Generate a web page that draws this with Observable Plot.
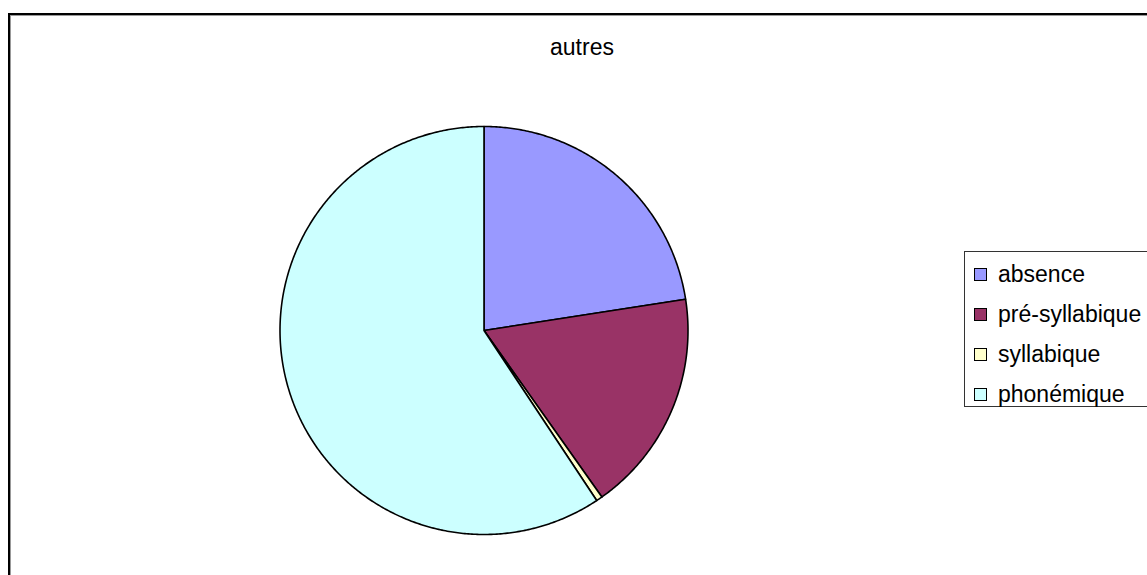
<!DOCTYPE html>
<html>
<head>
<meta charset="utf-8">
<script src="https://cdn.jsdelivr.net/npm/d3@7"></script>
<script src="https://cdn.jsdelivr.net/npm/@observablehq/plot@0.6"></script>
<style>
  html, body { margin: 0; padding: 0; background: #fff; }
  body { width: 1147px; height: 575px; position: relative; overflow: hidden; font-family: "Liberation Sans", Arial, sans-serif; }
  #frame { position: absolute; left: 8px; top: 13px; width: 1200px; height: 700px; border-left: 2px solid #000; border-top: 2px solid #000; box-shadow: inset 1px 1px 0 #999; }
  #chart { position: absolute; left: 0; top: 0; }
  #title { position: absolute; left: 482px; width: 200px; top: 34px; text-align: center; font-size: 23px; color: #000; }
  #legend { position: absolute; left: 964px; top: 251px; width: 300px; height: 156px; border: 1px solid #333; box-sizing: border-box; }
  .row { position: absolute; left: 0; height: 40px; display: flex; align-items: center; font-size: 23px; }
  .sw { width: 11px; height: 11px; border: 1px solid #000; margin-left: 9px; margin-right: 11px; }
</style>
</head>
<body>
<div id="frame"></div>
<div id="chart"></div>
<div id="title"></div>
<div id="legend"></div>
<script>
const title = "autres";
const categories = ["absence", "pré-syllabique", "syllabique", "phonémique"];
const values = [46, 36, 1, 121];
const colors = ["#9999FF", "#993366", "#FFFFCC", "#CCFFFF"];

const pie = d3.pie().sort(null).startAngle(0).endAngle(2 * Math.PI)(values);
const features = pie.map((p, i) => {
  const ring = [[0, 0]];
  const steps = Math.max(2, Math.ceil((p.endAngle - p.startAngle) / (Math.PI / 360)));
  for (let k = 0; k <= steps; k++) {
    const a = p.startAngle + (p.endAngle - p.startAngle) * k / steps;
    ring.push([Math.sin(a), Math.cos(a)]);
  }
  ring.push([0, 0]);
  return { type: "Feature", properties: { name: categories[i] }, geometry: { type: "Polygon", coordinates: [ring] } };
});

const W = 1147, H = 575;
const cx = 483.5, cy = 330, r = 204;
const chart = Plot.plot({
  width: W,
  height: H,
  marginLeft: cx - r,
  marginRight: W - (cx + r),
  marginTop: cy - r,
  marginBottom: H - (cy + r),
  projection: {
    type: "reflect-y",
    domain: { type: "Polygon", coordinates: [[[-1, -1], [1, -1], [1, 1], [-1, 1], [-1, -1]]] },
    inset: 0
  },
  color: { domain: categories, range: colors },
  style: { background: "transparent" },
  marks: [
    Plot.geo(features, { fill: d => d.properties.name, stroke: "#000", strokeWidth: 1.6, strokeLinejoin: "round" })
  ]
});
document.getElementById("chart").appendChild(chart);
document.getElementById("title").textContent = title;

const legend = document.getElementById("legend");
categories.forEach((c, i) => {
  const row = document.createElement("div");
  row.className = "row";
  row.style.top = (2 + i * 40) + "px";
  const sw = document.createElement("div");
  sw.className = "sw";
  sw.style.background = colors[i];
  const t = document.createElement("span");
  t.textContent = c;
  row.appendChild(sw);
  row.appendChild(t);
  legend.appendChild(row);
});
</script>
</body>
</html>
